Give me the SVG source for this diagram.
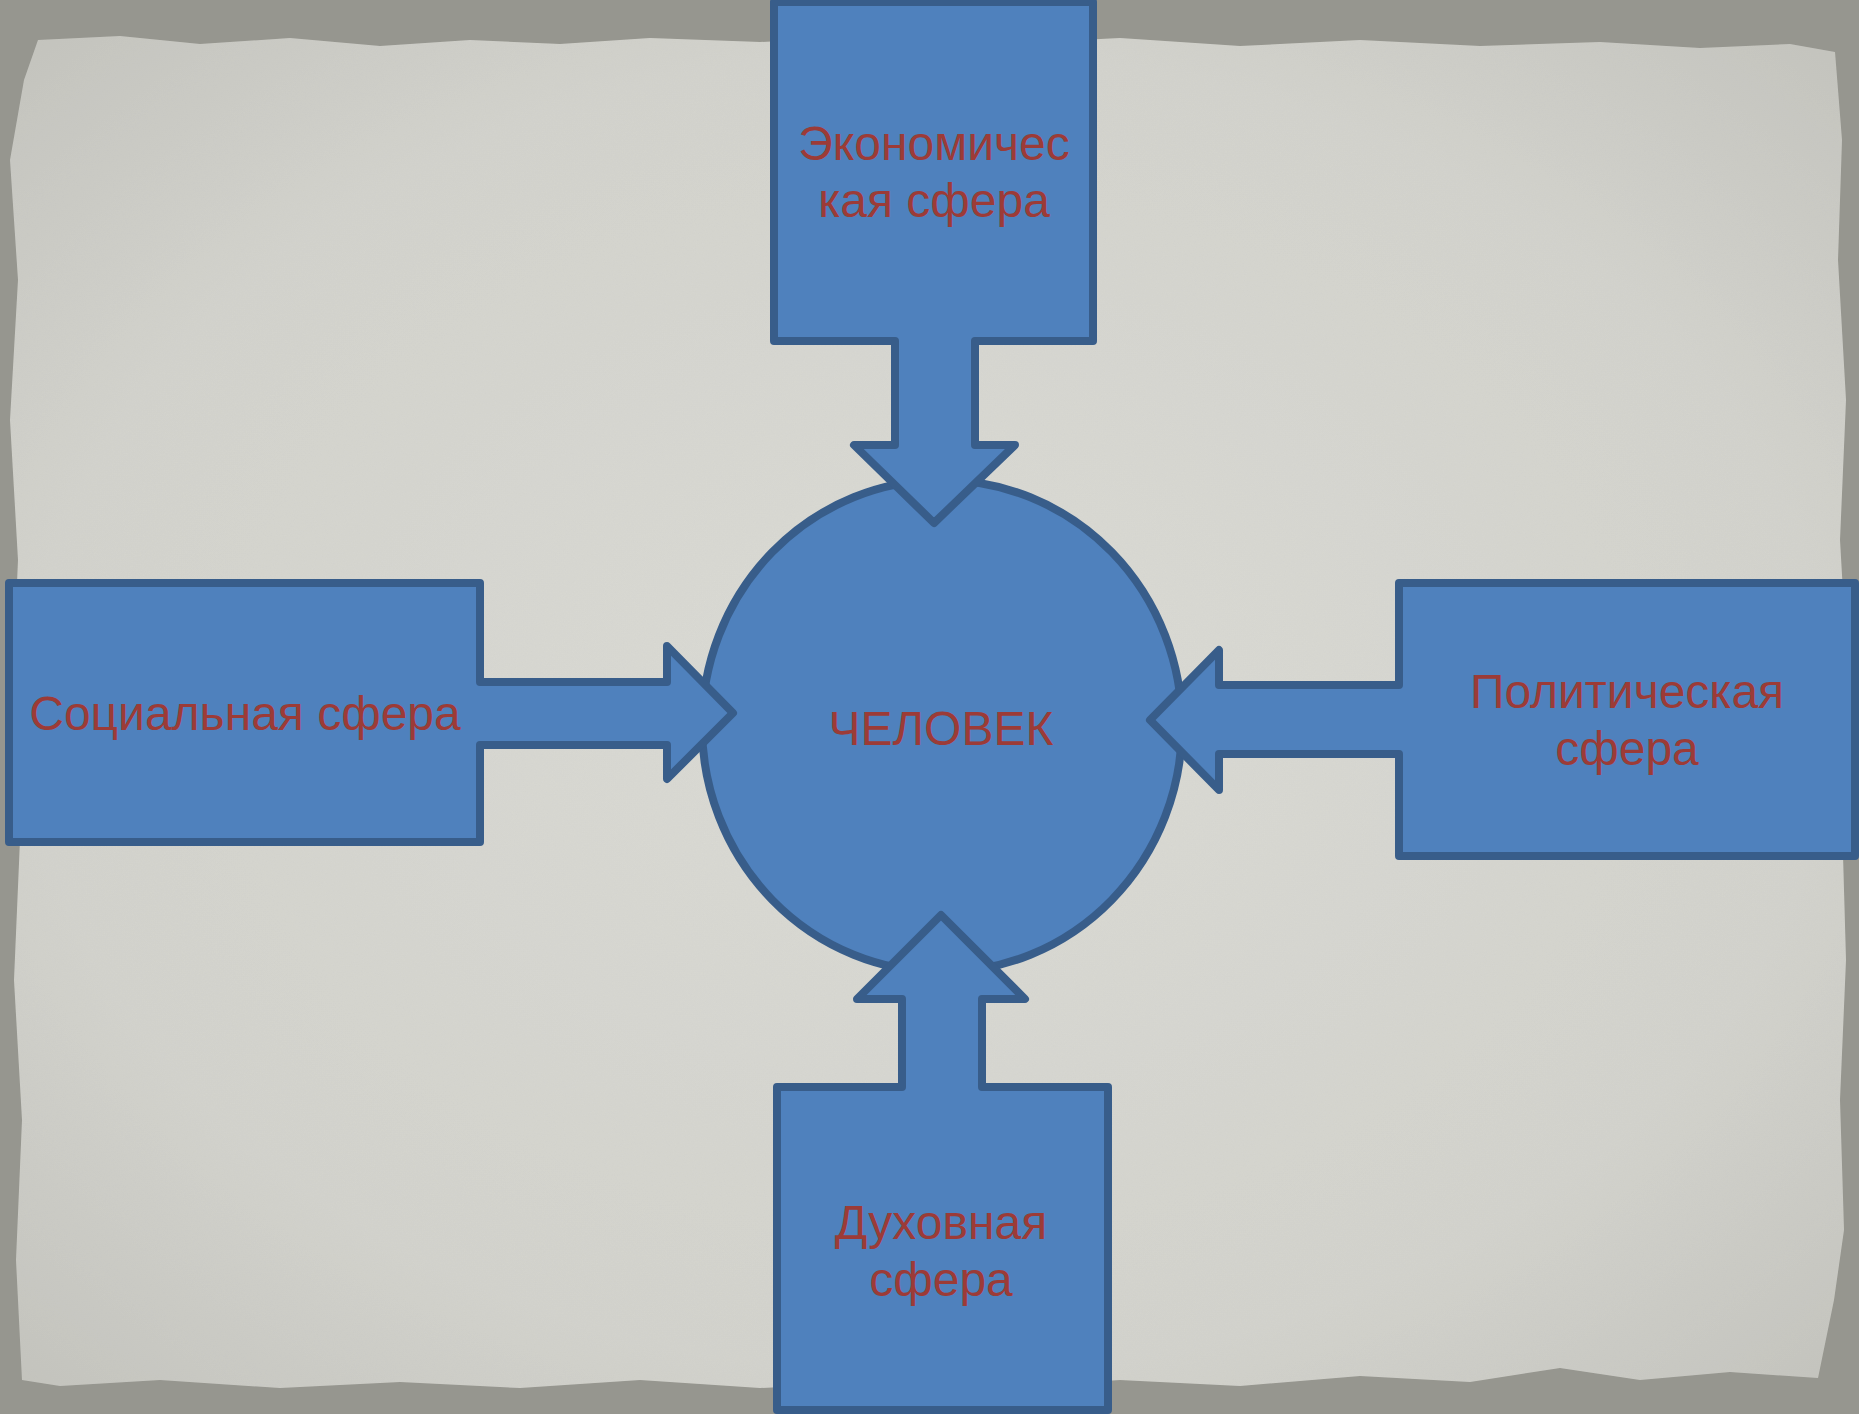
<svg xmlns="http://www.w3.org/2000/svg" width="1859" height="1414" viewBox="0 0 1859 1414">
<defs>
<radialGradient id="paper" cx="50%" cy="50%" r="70%">
<stop offset="0" stop-color="#dcdcd6"/>
<stop offset="0.7" stop-color="#d3d3cd"/>
<stop offset="1" stop-color="#c4c4be"/>
</radialGradient>
<filter id="tex" x="0" y="0" width="100%" height="100%">
<feTurbulence type="fractalNoise" baseFrequency="0.9" numOctaves="2" seed="3" result="n"/>
<feColorMatrix in="n" type="matrix" values="0 0 0 0 0.5  0 0 0 0 0.5  0 0 0 0 0.48  0 0 0 0.12 0" result="c"/>
<feComposite in="c" in2="SourceGraphic" operator="in" result="m"/>
<feMerge><feMergeNode in="SourceGraphic"/><feMergeNode in="m"/></feMerge>
</filter>
</defs>
<style>
.shape{fill:#4f81bd;stroke:#385d8a;stroke-width:8;stroke-linejoin:round}
.lbl{font-family:"Liberation Sans",Arial,sans-serif;font-size:48px;fill:#9c3b37;text-anchor:middle}
</style>
<g id="background">
<rect x="0" y="0" width="1859" height="1414" fill="#96968f"/>
<path filter="url(#tex)" fill="url(#paper)" d="M38,40 L120,36 L200,44 L290,38 L380,46 L470,40 L560,44 L650,38 L760,42 L880,36 L1000,44 L1120,38 L1240,46 L1360,40 L1480,46 L1600,42 L1700,48 L1790,44 L1835,52 L1842,140 L1838,260 L1846,400 L1840,540 L1848,680 L1842,820 L1846,960 L1840,1100 L1844,1230 L1834,1300 L1818,1378 L1730,1372 L1640,1380 L1560,1368 L1470,1382 L1360,1376 L1240,1386 L1120,1380 L1000,1388 L880,1382 L760,1388 L640,1380 L520,1388 L400,1382 L280,1388 L160,1380 L60,1386 L22,1380 L16,1260 L22,1120 L14,980 L20,840 L12,700 L18,560 L10,420 L18,280 L10,160 L24,80 Z"/>
</g>
<g id="node-chelovek">
<ellipse class="shape" cx="942" cy="726" rx="240" ry="246"/>
<text class="lbl" x="941" y="745">ЧЕЛОВЕК</text>
</g>
<g id="connectors">
</g>
<g id="node-economic">
<path class="shape" d="M774,2 H1093 V341 H975 V445 H1015 L934,523 L854,445 H895 V341 H774 Z"/>
<text class="lbl" x="934" y="160">Экономичес</text>
<text class="lbl" x="934" y="217">кая сфера</text>
</g>
<g id="node-social">
<path class="shape" d="M9,583 H480 V682 H667 V646 L733,713 L667,779 V745 H480 V842 H9 Z"/>
<text class="lbl" x="245" y="730">Социальная сфера</text>
</g>
<g id="node-political">
<path class="shape" d="M1855,583 V856 H1399 V754 H1219 V790 L1150,720 L1219,650 V685 H1399 V583 Z"/>
<text class="lbl" x="1627" y="708">Политическая</text>
<text class="lbl" x="1627" y="765">сфера</text>
</g>
<g id="node-spiritual">
<path class="shape" d="M777,1410 V1087 H902 V999 H857 L941,915 L1025,999 H982 V1087 H1108 V1410 Z"/>
<text class="lbl" x="941" y="1239">Духовная</text>
<text class="lbl" x="941" y="1296">сфера</text>
</g>
</svg>
